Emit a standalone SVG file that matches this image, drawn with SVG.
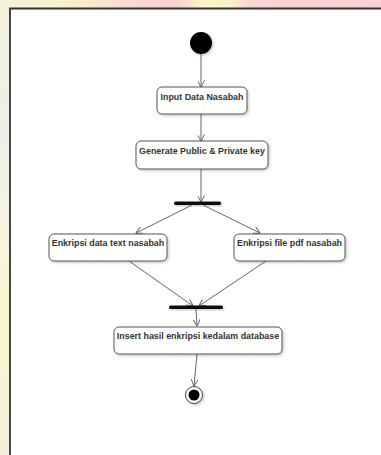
<svg xmlns="http://www.w3.org/2000/svg" width="381" height="455" viewBox="0 0 381 455">
<defs>
<style>
.box{fill:#fff;stroke:#555;stroke-width:1;filter:url(#sh)}
.lbl{font-family:"Liberation Sans",Arial,sans-serif;font-weight:bold;font-size:8.9px;fill:#333;text-anchor:middle}
.edge{stroke:#666;stroke-width:1;fill:none;marker-end:url(#arr)}
.bar{fill:#111;filter:url(#sh)}
</style>
<marker id="arr" viewBox="0 0 10 10" refX="9.5" refY="5" markerWidth="7" markerHeight="7" markerUnits="userSpaceOnUse" orient="auto">
<path d="M0,0 L10,5 L0,10" fill="none" stroke="#666" stroke-width="1.4"/>
</marker>
<filter id="sh" x="-20%" y="-30%" width="140%" height="170%">
<feDropShadow dx="1.5" dy="1.5" stdDeviation="1" flood-color="#000" flood-opacity="0.2"/>
</filter>
<linearGradient id="topg" x1="0" y1="0" x2="1" y2="0">
<stop offset="0" stop-color="#f4f2dc"/>
<stop offset="0.2" stop-color="#f8f0c8"/>
<stop offset="0.35" stop-color="#f8d8d6"/>
<stop offset="0.47" stop-color="#f8d4d2"/>
<stop offset="0.53" stop-color="#faf6c4"/>
<stop offset="0.6" stop-color="#f9f2c8"/>
<stop offset="0.66" stop-color="#f8d6d4"/>
<stop offset="1" stop-color="#f8d2d2"/>
</linearGradient>
<linearGradient id="leftg" x1="0" y1="0" x2="0" y2="1">
<stop offset="0" stop-color="#f4f2dc"/>
<stop offset="0.3" stop-color="#f0eee8"/>
<stop offset="0.55" stop-color="#f7f5dc"/>
<stop offset="0.7" stop-color="#f8f6cc"/>
<stop offset="1" stop-color="#f2f0dc"/>
</linearGradient>
</defs>
<rect x="0" y="0" width="381" height="455" fill="url(#leftg)"/>
<rect x="0" y="0" width="381" height="8.5" fill="url(#topg)"/>
<rect x="10" y="8.5" width="371" height="446.5" fill="#fff"/>
<path d="M10,455 V8.5 H381" fill="none" stroke="#333" stroke-width="1.8"/>
<g id="connectors">
<line class="edge" x1="201" y1="54" x2="201" y2="87"/>
<line class="edge" x1="201" y1="114" x2="201" y2="141"/>
<line class="edge" x1="201" y1="169" x2="201" y2="202"/>
<line class="edge" x1="192" y1="205" x2="136" y2="233"/>
<line class="edge" x1="203" y1="205" x2="260" y2="233"/>
<line class="edge" x1="129" y1="261" x2="193" y2="306"/>
<line class="edge" x1="266" y1="261" x2="199" y2="306"/>
<line class="edge" x1="196" y1="309" x2="197" y2="326"/>
<line class="edge" x1="197" y1="354" x2="194" y2="386"/>
</g>
<g id="start"><circle cx="201" cy="43" r="11" fill="#000" filter="url(#sh)"/></g>
<g id="input"><rect class="box" x="157" y="87" width="90" height="27" rx="5"/><text class="lbl" x="202" y="100">Input Data Nasabah</text></g>
<g id="generate"><rect class="box" x="136" y="141" width="132" height="28" rx="5"/><text class="lbl" x="202" y="154">Generate Public &amp; Private key</text></g>
<g id="fork"><rect class="bar" x="174" y="201.5" width="47" height="3.5" rx="1.5"/></g>
<g id="enkripsiText"><rect class="box" x="49" y="234" width="118" height="27" rx="5"/><text class="lbl" x="108" y="246">Enkripsi data text nasabah</text></g>
<g id="enkripsiPdf"><rect class="box" x="234" y="234" width="111" height="27" rx="5"/><text class="lbl" x="289.5" y="246">Enkripsi file pdf nasabah</text></g>
<g id="join"><rect class="bar" x="169" y="305.5" width="54" height="3.5" rx="1.5"/></g>
<g id="insert"><rect class="box" x="114" y="327" width="168" height="27" rx="5"/><text class="lbl" x="198" y="339">Insert hasil enkripsi kedalam database</text></g>
<g id="end"><circle cx="194" cy="395" r="8.5" fill="#fff" stroke="#444" stroke-width="1" filter="url(#sh)"/><circle cx="194" cy="395" r="5.5" fill="#000"/></g>
</svg>
